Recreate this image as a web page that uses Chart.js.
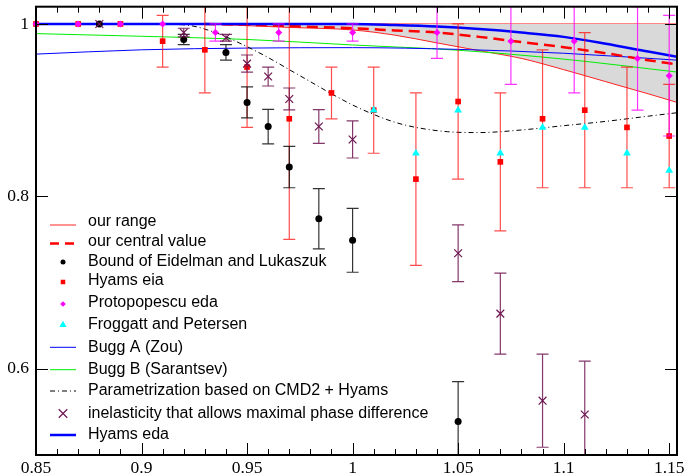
<!DOCTYPE html>
<html>
<head>
<meta charset="utf-8">
<script src="https://cdn.jsdelivr.net/npm/chart.js@4/dist/chart.umd.min.js"></script>
<style>
  html, body { margin: 0; padding: 0; background: #fff; }
</style>
</head>
<body>
<canvas id="graficoInelasticita" width="688" height="476"></canvas>
<script>
// assi
const xTicks = [0.85, 0.9, 0.95, 1, 1.05, 1.1, 1.15];
const xTickLabels = ['0.85', '0.9', '0.95', '1', '1.05', '1.1', '1.15'];
const yTicks = [0.6, 0.8, 1];
const yTickLabels = ['0.6', '0.8', '1'];
const xMin = 0.85, xMax = 1.1537;
const yMin = 0.5, yMax = 1.02;

// banda "our range" + valore centrale
const rangeX = [0.93, 0.95, 0.97, 1.0, 1.02, 1.04, 1.06, 1.08, 1.10, 1.12, 1.14, 1.1537];
const rangeUpper = [1, 1, 1, 1, 1, 1, 1, 1, 1, 1, 1, 1];
const rangeLower = [1.0, 0.998, 0.996, 0.993, 0.987, 0.978, 0.969, 0.960, 0.947, 0.933, 0.919, 0.909];
const centralY = [1.0, 0.999, 0.9975, 0.995, 0.9925, 0.990, 0.985, 0.979, 0.973, 0.966, 0.958, 0.953];

// Hyams eda (curva blu spessa)
const hyamsEdaX = [0.85, 0.9, 0.95, 1.0, 1.02, 1.04, 1.06, 1.08, 1.10, 1.12, 1.14, 1.1537];
const hyamsEdaY = [1, 1, 1, 1, 0.9988, 0.997, 0.994, 0.990, 0.985, 0.977, 0.968, 0.962];

// Bugg A / Bugg B
const buggX = [0.85, 0.9, 0.95, 1.0, 1.05, 1.1, 1.1537];
const buggAY = [0.965, 0.970, 0.972, 0.9725, 0.9705, 0.966, 0.958];
const buggBY = [0.9888, 0.9857, 0.982, 0.9756, 0.9695, 0.9592, 0.9442];

// parametrizzazione CMD2 + Hyams
const paramX = [0.85, 0.9, 0.92, 0.935, 0.948, 0.96, 0.97, 0.98, 0.99, 1.0, 1.01, 1.02, 1.03, 1.045, 1.06, 1.08, 1.1, 1.12, 1.14, 1.1537];
const paramY = [1, 1, 0.999, 0.99, 0.976, 0.961, 0.947, 0.933, 0.919, 0.906, 0.895, 0.886, 0.880, 0.875, 0.874, 0.877, 0.882, 0.887, 0.893, 0.897];

// punti sperimentali (valore + errore simmetrico)
const eidelmanX = [0.88, 0.92, 0.94, 0.95, 0.96, 0.97, 0.984, 1.0, 1.05];
const eidelmanY = [1.0, 0.982, 0.967, 0.909, 0.881, 0.834, 0.774, 0.749, 0.539];
const eidelmanErr = [0, 0.006, 0.009, 0.018, 0.02, 0.024, 0.035, 0.037, 0.046];

const hyamsEiaX = [0.85, 0.87, 0.89, 0.91, 0.93, 0.95, 0.97, 0.99, 1.01, 1.03, 1.05, 1.07, 1.09, 1.11, 1.13, 1.15];
const hyamsEiaY = [1, 1, 1, 0.98, 0.97, 0.95, 0.89, 0.92, 0.90, 0.82, 0.91, 0.84, 0.89, 0.90, 0.88, 0.87];
const hyamsEiaErr = [0, 0, 0, 0.03, 0.05, 0.07, 0.14, 0.03, 0.05, 0.10, 0.09, 0.08, 0.08, 0.09, 0.07, 0.06];

const protoX = [0.85, 0.87, 0.89, 0.91, 0.935, 0.965, 1.0, 1.04, 1.075, 1.105, 1.135, 1.15];
const protoY = [1, 1, 1, 1, 0.99, 0.99, 0.99, 0.99, 0.98, 0.98, 0.96, 0.94];
const protoErr = [0, 0, 0, 0, 0.01, 0.01, 0.01, 0.03, 0.05, 0.06, 0.06, 0.07];

const froggattX = [1.01, 1.03, 1.05, 1.07, 1.09, 1.11, 1.13, 1.15];
const froggattY = [0.90, 0.85, 0.90, 0.85, 0.88, 0.88, 0.85, 0.83];

const inelX = [0.88, 0.92, 0.94, 0.95, 0.96, 0.97, 0.984, 1.0, 1.05, 1.07, 1.09, 1.11];
const inelY = [1.0, 0.990, 0.984, 0.954, 0.939, 0.913, 0.881, 0.866, 0.734, 0.664, 0.563, 0.547];
const inelErr = [0, 0.005, 0.004, 0.010, 0.011, 0.0127, 0.0195, 0.0215, 0.033, 0.047, 0.054, 0.062];

const legendLabels = [
  'our range',
  'our central value',
  'Bound of Eidelman and Lukaszuk',
  'Hyams eia',
  'Protopopescu eda',
  'Froggatt and Petersen',
  'Bugg A (Zou)',
  'Bugg B (Sarantsev)',
  'Parametrization based on CMD2 + Hyams',
  'inelasticity that allows maximal phase difference',
  'Hyams eda'
];

const punti = (xs, ys) => xs.map((x, i) => ({ x: x, y: ys[i] }));

// curva continua
function curva(label, xs, ys, extra) {
  return Object.assign({
    label: label,
    data: punti(xs, ys),
    borderWidth: 1,
    pointRadius: 0,
    fill: false,
    cubicInterpolationMode: 'monotone'
  }, extra);
}

// serie di punti con barre d'errore
function serie(label, xs, ys, errs, extra) {
  return Object.assign({
    label: label,
    data: punti(xs, ys),
    errors: errs,
    showLine: false,
    clip: false
  }, extra);
}

// barre d'errore disegnate prima dei marker di ogni serie
const barreErrore = {
  id: 'barreErrore',
  beforeDatasetDraw(chart, args) {
    const ds = chart.data.datasets[args.index];
    if (!ds.errors) return;
    const ctx = chart.ctx;
    const a = chart.chartArea;
    const ys = chart.scales.y;
    ctx.save();
    ctx.beginPath();
    ctx.rect(a.left, a.top, a.right - a.left, a.bottom - a.top);
    ctx.clip();
    ctx.strokeStyle = ds.errorColor;
    ctx.lineWidth = 1.2;
    args.meta.data.forEach((pt, i) => {
      const e = ds.errors[i];
      if (!e) return;
      const v = ds.data[i].y;
      const yTop = ys.getPixelForValue(v + e);
      const yBot = ys.getPixelForValue(v - e);
      ctx.beginPath();
      ctx.moveTo(pt.x, yTop); ctx.lineTo(pt.x, yBot);
      ctx.moveTo(pt.x - 6, yTop); ctx.lineTo(pt.x + 6, yTop);
      ctx.moveTo(pt.x - 6, yBot); ctx.lineTo(pt.x + 6, yBot);
      ctx.stroke();
    });
    ctx.restore();
  }
};

// cornice con tacche verso l'interno su tutti e quattro i lati
const cornice = {
  id: 'cornice',
  afterDatasetsDraw(chart) {
    const ctx = chart.ctx;
    const { left, right, top, bottom } = chart.chartArea;
    const xs = chart.scales.x, ys = chart.scales.y;
    ctx.save();
    ctx.strokeStyle = '#000';
    ctx.lineWidth = 1;
    ctx.beginPath();
    for (let k = 85; k <= 115; k++) {
      const px = Math.round(xs.getPixelForValue(k / 100)) + 0.5;
      const len = (k % 5 === 0) ? 12 : 6;
      ctx.moveTo(px, bottom); ctx.lineTo(px, bottom - len);
      ctx.moveTo(px, top); ctx.lineTo(px, top + len);
    }
    yTicks.forEach(v => {
      const py = Math.round(ys.getPixelForValue(v)) + 0.5;
      ctx.moveTo(left, py); ctx.lineTo(left + 12, py);
      ctx.moveTo(right, py); ctx.lineTo(right - 12, py);
    });
    ctx.stroke();
    ctx.lineWidth = 2;
    ctx.strokeRect(left, top, right - left, bottom - top);
    ctx.restore();
  }
};

// legenda dentro l'area del grafico, in basso a sinistra
const legendaInterna = {
  id: 'legendaInterna',
  afterDraw(chart) {
    const ctx = chart.ctx;
    const rigaY = [225, 243.5, 262, 282, 304, 325, 347.3, 369.7, 391, 413.5, 435];
    const testoY = [221.5, 242, 262, 281, 303, 325, 347.2, 369.5, 391, 413.5, 434.5];
    ctx.save();
    legendLabels.forEach((lab, i) => {
      const ds = chart.data.datasets.find(d => d.label === lab);
      const y = rigaY[i];
      if (ds.showLine === false) {
        ctx.fillStyle = ds.backgroundColor;
        ctx.strokeStyle = ds.borderColor;
        ctx.lineWidth = ds.borderWidth || 1;
        Chart.helpers.drawPoint(ctx, {
          pointStyle: ds.pointStyle,
          radius: ds.legendRadius,
          borderWidth: ds.borderWidth || 0,
          rotation: 0
        }, 63, y);
      } else {
        ctx.strokeStyle = ds.borderColor;
        ctx.lineWidth = ds.borderWidth;
        ctx.setLineDash(ds.legendDash || ds.borderDash || []);
        ctx.beginPath();
        ctx.moveTo(50, y); ctx.lineTo(76, y);
        ctx.stroke();
        ctx.setLineDash([]);
      }
      ctx.fillStyle = '#000';
      ctx.font = '16px "Liberation Sans", Arial, sans-serif';
      ctx.textBaseline = 'middle';
      ctx.fillText(lab, 88, testoY[i]);
    });
    ctx.restore();
  }
};

const fontAssi = { family: '"Liberation Serif", "Times New Roman", serif', size: 17.5 };

// niente spazio extra per le etichette agli estremi degli assi
const azzeraPadding = s => {
  s.paddingTop = 0; s.paddingBottom = 0;
  s.paddingLeft = 0; s.paddingRight = 0;
};

new Chart(document.getElementById('graficoInelasticita'), {
  type: 'line',
  data: {
    datasets: [
      curva('our range', rangeX, rangeUpper, { borderColor: 'rgba(255,0,0,0.85)', order: 20 }),
      curva('', rangeX, rangeLower, {
        borderColor: 'rgba(255,0,0,0.85)',
        fill: '-1',
        backgroundColor: '#d9d9d9',
        order: 19
      }),
      curva('Bugg B (Sarantsev)', buggX, buggBY, { borderColor: '#00ee00', order: 15 }),
      curva('Bugg A (Zou)', buggX, buggAY, { borderColor: '#0000ff', order: 14 }),
      curva('Parametrization based on CMD2 + Hyams', paramX, paramY, {
        borderColor: '#000', borderDash: [5, 3, 1, 3], order: 13
      }),
      curva('our central value', rangeX, centralY, {
        borderColor: '#ff0000', borderWidth: 2.5, borderDash: [11, 6], legendDash: [9, 6], order: 12
      }),
      curva('Hyams eda', hyamsEdaX, hyamsEdaY, { borderColor: '#0000ff', borderWidth: 2.5, order: 11 }),

      serie('Hyams eia', hyamsEiaX, hyamsEiaY, hyamsEiaErr, {
        pointStyle: 'rect', pointRadius: 4, legendRadius: 3.2,
        backgroundColor: '#ff0000', borderColor: '#ff0000', borderWidth: 0,
        errorColor: 'rgba(255,0,0,0.7)', order: 5
      }),
      serie('Protopopescu eda', protoX, protoY, protoErr, {
        pointStyle: 'rectRot', pointRadius: 3.5, legendRadius: 2.8,
        backgroundColor: '#ff00ff', borderColor: '#ff00ff', borderWidth: 0,
        errorColor: 'rgba(255,0,255,0.8)', order: 4
      }),
      serie('Froggatt and Petersen', froggattX, froggattY, null, {
        pointStyle: 'triangle', pointRadius: 4.5, legendRadius: 4.2,
        backgroundColor: '#00ffff', borderColor: '#00ffff', borderWidth: 0, order: 3
      }),
      serie('Bound of Eidelman and Lukaszuk', eidelmanX, eidelmanY, eidelmanErr, {
        pointStyle: 'circle', pointRadius: 3.5, legendRadius: 2.5,
        backgroundColor: '#000', borderColor: '#000', borderWidth: 0,
        errorColor: 'rgba(0,0,0,0.8)', order: 2
      }),
      serie('inelasticity that allows maximal phase difference', inelX, inelY, inelErr, {
        pointStyle: 'crossRot', pointRadius: 5.5, legendRadius: 6,
        backgroundColor: '#6e1450', borderColor: '#6e1450', borderWidth: 1.2,
        errorColor: 'rgba(110,20,80,0.85)', order: 1
      })
    ]
  },
  options: {
    responsive: false,
    animation: false,
    devicePixelRatio: 1,
    layout: { padding: { top: 6, right: 11, left: 0, bottom: 0 } },
    plugins: { legend: { display: false }, tooltip: { enabled: false } },
    scales: {
      x: {
        type: 'linear',
        min: xMin,
        max: xMax,
        grid: { display: false, drawTicks: false },
        border: { display: false },
        afterBuildTicks: s => { s.ticks = xTicks.map(v => ({ value: v })); },
        afterFit: s => { s.height = 21; azzeraPadding(s); },
        ticks: {
          callback: (v, i) => xTickLabels[i],
          font: fontAssi, color: '#000', padding: 3,
          maxRotation: 0, autoSkip: false
        }
      },
      y: {
        type: 'linear',
        min: yMin,
        max: yMax,
        grid: { display: false, drawTicks: false },
        border: { display: false },
        afterBuildTicks: s => { s.ticks = yTicks.map(v => ({ value: v })); },
        afterFit: s => { s.width = 36; azzeraPadding(s); },
        ticks: {
          callback: (v, i) => yTickLabels[i],
          font: fontAssi, color: '#000', padding: 7
        }
      }
    }
  },
  plugins: [barreErrore, cornice, legendaInterna]
});
</script>
</body>
</html>
